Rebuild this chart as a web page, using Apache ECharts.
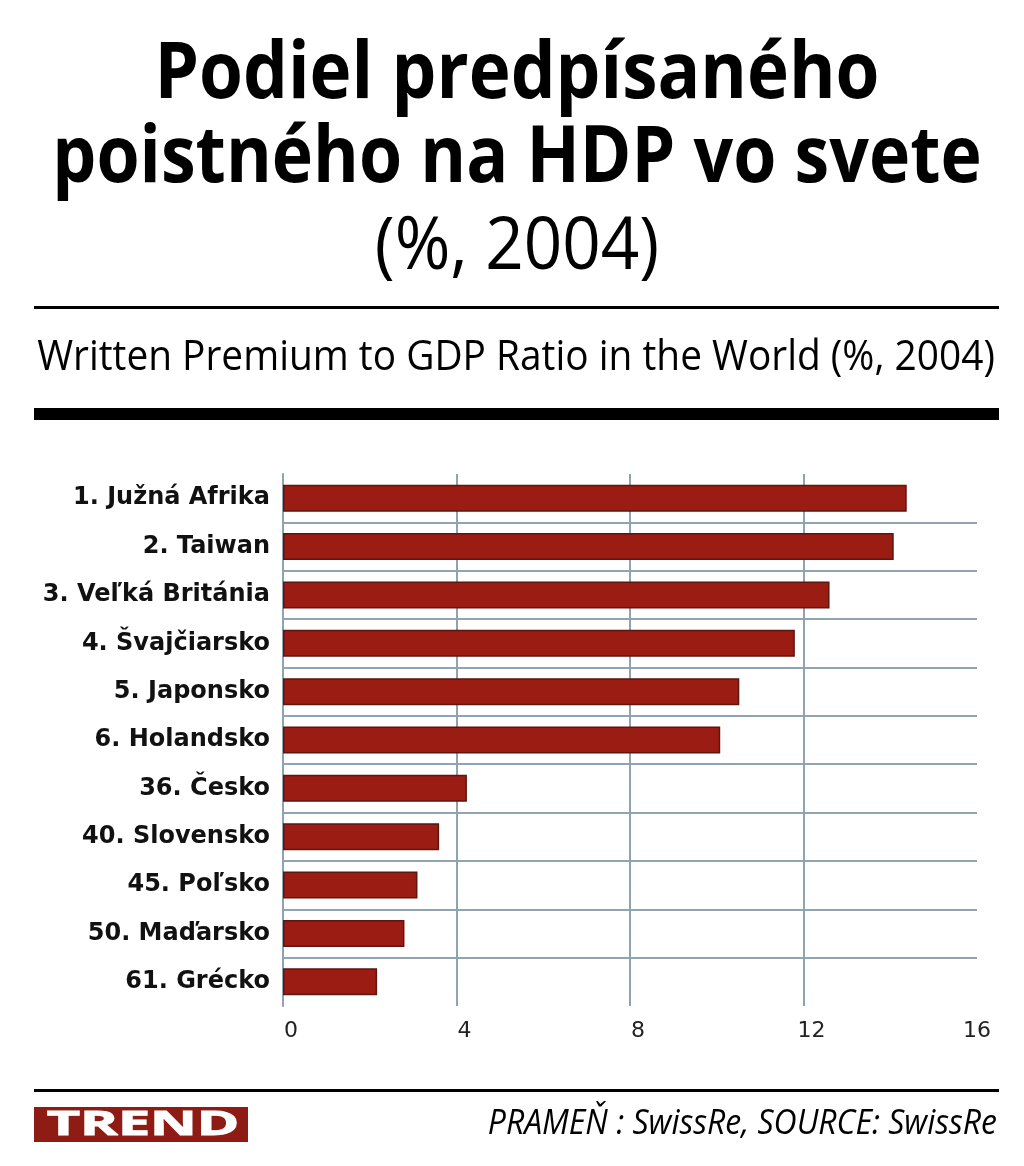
<!DOCTYPE html>
<html>
<head>
<meta charset="utf-8">
<title>Podiel predpísaného poistného na HDP vo svete</title>
<script src="https://cdn.jsdelivr.net/npm/echarts@6/dist/echarts.min.js"></script>
<style>
html, body { margin: 0; padding: 0; background: #fff; }
#main { width: 1024px; height: 1166px; }
</style>
</head>
<body>
<div id="main"></div>
<script>
var categories = ["1. Južná Afrika", "2. Taiwan", "3. Veľká Británia", "4. Švajčiarsko", "5. Japonsko", "6. Holandsko", "36. Česko", "40. Slovensko", "45. Poľsko", "50. Maďarsko", "61. Grécko"];
var values = [14.38, 14.08, 12.6, 11.8, 10.52, 10.08, 4.24, 3.6, 3.1, 2.8, 2.17];
var titleLines = ["Podiel predpísaného", "poistného na HDP vo svete"];
var subtitle = "(%, 2004)";
var englishTitle = "Written Premium to GDP Ratio in the World (%, 2004)";
var sourceText = "PRAMEŇ : SwissRe, SOURCE: SwissRe";
var logoText = "TREND";

var gridColor = "#8fa3b0";
var titleFont = '"Open Sans", sans-serif';

function label(text, x, y, size, weight, align, scaleX, style) {
    return {
        type: "text", x: x, y: y, scaleX: scaleX,
        style: {
            text: text, fill: (style && style.fill) || "#000", fontFamily: titleFont,
            fontSize: size, fontWeight: weight, fontStyle: (style && style.fontStyle) || "normal",
            stroke: style && style.stroke, lineWidth: style && style.lineWidth,
            align: align, verticalAlign: "middle"
        }
    };
}
function rule(y, h) {
    return { type: "rect", shape: { x: 34, y: y, width: 965, height: h }, style: { fill: "#000" } };
}

var chart = echarts.init(document.getElementById("main"));
chart.setOption({
    backgroundColor: "#fff",
    animation: false,
    grid: { left: 283, right: 47, top: 474, height: 532 },
    xAxis: {
        type: "value", min: 0, max: 16, interval: 4,
        axisLine: { show: false },
        axisTick: { show: false },
        axisLabel: {
            margin: 14,
            // the last label sits on its tick, the others just right of theirs
            formatter: function (v) { return v === 16 ? "{last|" + v + "}" : "{tick|" + v + "}"; },
            rich: {
                tick: { color: "#222", fontSize: 22, fontFamily: "DejaVu Sans", padding: [0, 0, 0, 16] },
                last: { color: "#222", fontSize: 22, fontFamily: "DejaVu Sans" }
            }
        },
        splitLine: { show: true, showMaxLine: false, lineStyle: { color: gridColor, width: 2 } }
    },
    yAxis: {
        type: "category", inverse: true, data: categories,
        axisLine: { show: true, lineStyle: { color: gridColor, width: 2 } },
        axisTick: { show: false },
        axisLabel: { color: "#111", fontSize: 24, fontWeight: "bold", fontFamily: "DejaVu Sans", margin: 13, interval: 0, padding: [8, 0, 0, 0] },
        splitLine: { show: true, showMinLine: false, showMaxLine: false, lineStyle: { color: gridColor, width: 2 } }
    },
    series: [{
        type: "bar", data: values, barWidth: 27,
        itemStyle: { color: "#9b1c12", borderColor: "#5f1510", borderWidth: 1.5 }
    }],
    graphic: [
        label(titleLines[0], 517, 76, 78, "bold", "center", 0.91),
        label(titleLines[1], 517, 160, 78, "bold", "center", 0.895),
        label(subtitle, 517, 248, 74, "normal", "center", 0.91),
        rule(306, 3),
        label(englishTitle, 516, 358, 42, "normal", "center", 0.925),
        rule(408, 12),
        rule(1089, 3),
        { type: "rect", shape: { x: 34, y: 1107, width: 214, height: 35 }, style: { fill: "#8f1c14" } },
        label(logoText, 143, 1125, 34, "bold", "center", 1.69, { fill: "#fff", stroke: "#fff", lineWidth: 1 }),
        label(sourceText, 997, 1124, 34, "normal", "right", 0.94, { fontStyle: "italic" })
    ]
});
</script>
</body>
</html>
